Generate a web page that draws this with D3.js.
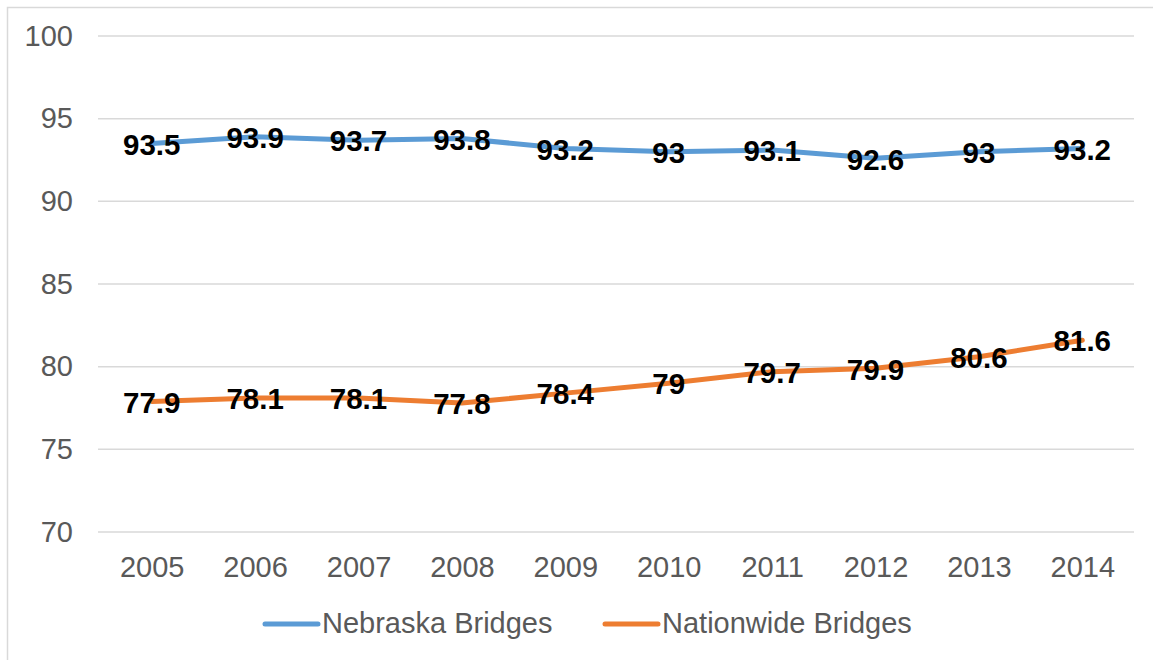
<!DOCTYPE html>
<html>
<head>
<meta charset="utf-8">
<script src="https://cdn.jsdelivr.net/npm/d3@7"></script>
<style>
  html, body { margin: 0; padding: 0; background: #fff; }
  svg { display: block; font-family: "Liberation Sans", Arial, sans-serif; }
</style>
</head>
<body>
<div id="chart"></div>
<script>
const years = ["2005", "2006", "2007", "2008", "2009", "2010", "2011", "2012", "2013", "2014"];
const nebraska = [93.5, 93.9, 93.7, 93.8, 93.2, 93, 93.1, 92.6, 93, 93.2];
const nationwide = [77.9, 78.1, 78.1, 77.8, 78.4, 79, 79.7, 79.9, 80.6, 81.6];
const yTicks = [70, 75, 80, 85, 90, 95, 100];
const seriesNames = ["Nebraska Bridges", "Nationwide Bridges"];
const seriesColors = ["#5B9BD5", "#ED7D31"];

const width = 1153, height = 660;
const axisFont = 29;

const svg = d3.select("#chart").append("svg")
  .attr("width", width)
  .attr("height", height);

// chart area border (runs off right/bottom edge)
svg.append("rect")
  .attr("x", 7.5).attr("y", 7.5)
  .attr("width", width + 20).attr("height", height + 20)
  .attr("fill", "none")
  .attr("stroke", "#D9D9D9")
  .attr("stroke-width", 1.5);

const x = d3.scalePoint().domain(years).range([100, 1134]).padding(0.5);
const y = d3.scaleLinear().domain([70, 100]).range([532, 36]);

// gridlines
svg.append("g")
  .selectAll("line")
  .data(yTicks)
  .join("line")
  .attr("x1", 98).attr("x2", 1134)
  .attr("y1", d => y(d)).attr("y2", d => y(d))
  .attr("stroke", "#D9D9D9")
  .attr("stroke-width", 1.5);

// y axis labels
const yAxis = svg.append("g")
  .attr("transform", "translate(73,0)")
  .call(d3.axisLeft(y).tickValues(yTicks).tickSize(0).tickPadding(0));
yAxis.select(".domain").remove();
yAxis.selectAll("text")
  .attr("font-size", axisFont)
  .attr("font-family", "Liberation Sans, Arial, sans-serif")
  .attr("fill", "#595959");

// x axis labels
const xAxis = svg.append("g")
  .attr("transform", "translate(0,556)")
  .call(d3.axisBottom(x).tickSize(0).tickPadding(0));
xAxis.select(".domain").remove();
xAxis.selectAll("text")
  .attr("font-size", axisFont)
  .attr("font-family", "Liberation Sans, Arial, sans-serif")
  .attr("fill", "#595959");

const series = [nebraska, nationwide];
const line = d3.line()
  .x((d, i) => x(years[i]))
  .y(d => y(d));

series.forEach((vals, s) => {
  svg.append("path")
    .datum(vals)
    .attr("d", line)
    .attr("fill", "none")
    .attr("stroke", seriesColors[s])
    .attr("stroke-width", 5)
    .attr("stroke-linejoin", "round")
    .attr("stroke-linecap", "round");
});

// data labels
series.forEach((vals, s) => {
  svg.append("g")
    .selectAll("text")
    .data(vals)
    .join("text")
    .attr("x", (d, i) => x(years[i]))
    .attr("y", d => y(d))
    .attr("dy", "0.38em")
    .attr("text-anchor", "middle")
    .attr("font-size", 29.5)
    .attr("font-weight", "bold")
    .attr("fill", "#000")
    .text(d => d);
});

// legend
const legendX = [265, 605];
const legend = svg.append("g");
seriesNames.forEach((name, i) => {
  legend.append("line")
    .attr("x1", legendX[i]).attr("x2", legendX[i] + 53)
    .attr("y1", 624).attr("y2", 624)
    .attr("stroke", seriesColors[i])
    .attr("stroke-width", 5)
    .attr("stroke-linecap", "round");
  legend.append("text")
    .attr("x", legendX[i] + 57)
    .attr("y", 633)
    .attr("font-size", axisFont)
    .attr("fill", "#595959")
    .text(name);
});
</script>
</body>
</html>
